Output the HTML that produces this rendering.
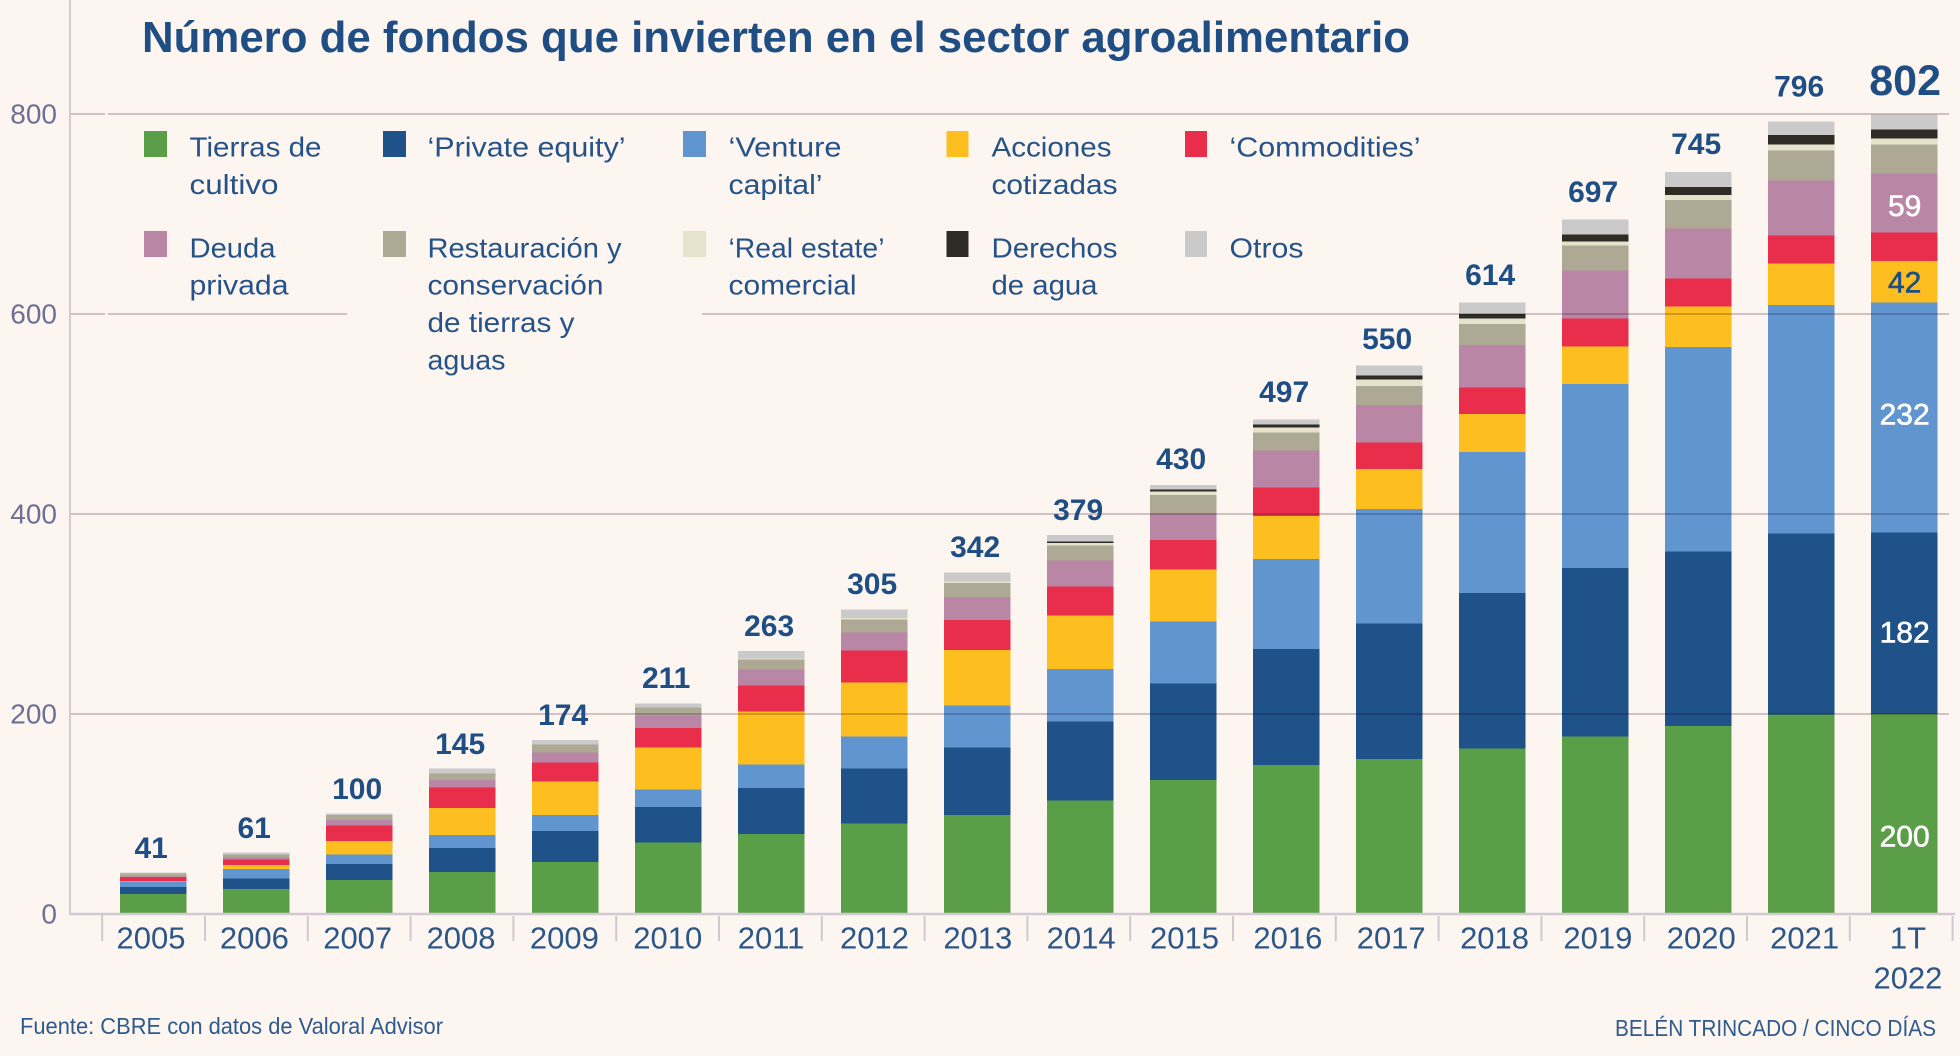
<!DOCTYPE html>
<html lang="es">
<head>
<meta charset="utf-8">
<title>Número de fondos que invierten en el sector agroalimentario</title>
<style>
html,body{margin:0;padding:0;background:#fdf5ef;}
svg{display:block;font-family:"Liberation Sans",sans-serif;}
.lg{font-size:28px;fill:#255389;}
.sw{shape-rendering:crispEdges;}
</style>
</head>
<body>
<svg id="chart" xmlns="http://www.w3.org/2000/svg" width="1960" height="1056" viewBox="0 0 1960 1056">
  <rect x="0" y="0" width="1960" height="1056" fill="#fdf5ef"/>
  <g id="grid"></g>
  <g id="bars"></g>
  <g id="gridOver" style="mix-blend-mode:multiply"></g>
  <g id="axes"></g>

  <text x="142" y="52" font-size="44" font-weight="bold" fill="#1f4e85" textLength="1268" lengthAdjust="spacingAndGlyphs">Número de fondos que invierten en el sector agroalimentario</text>

  <rect x="347" y="305" width="355" height="20" fill="#fdf5ef"/>
  <rect x="105" y="105" width="3" height="220" fill="#fdf5ef"/>

  <g id="legend">
    <g>
      <rect class="sw" x="144" y="131" width="23" height="26" fill="#5a9f47"/>
      <text class="lg" x="189.5" y="156.5" textLength="132" lengthAdjust="spacingAndGlyphs">Tierras de</text>
      <text class="lg" x="189.5" y="194" textLength="89" lengthAdjust="spacingAndGlyphs">cultivo</text>
    </g>
    <g>
      <rect class="sw" x="383" y="131" width="23" height="26" fill="#1f5288"/>
      <text class="lg" x="427.5" y="156.5" textLength="198" lengthAdjust="spacingAndGlyphs">‘Private equity’</text>
    </g>
    <g>
      <rect class="sw" x="683" y="131" width="23" height="26" fill="#6095cf"/>
      <text class="lg" x="728.5" y="156.5" textLength="113" lengthAdjust="spacingAndGlyphs">‘Venture</text>
      <text class="lg" x="728.5" y="194" textLength="94" lengthAdjust="spacingAndGlyphs">capital’</text>
    </g>
    <g>
      <rect class="sw" x="946.5" y="131" width="22" height="26" fill="#fdbf1f"/>
      <text class="lg" x="991.5" y="156.5" textLength="120" lengthAdjust="spacingAndGlyphs">Acciones</text>
      <text class="lg" x="991.5" y="194" textLength="126" lengthAdjust="spacingAndGlyphs">cotizadas</text>
    </g>
    <g>
      <rect class="sw" x="1185" y="131" width="22" height="26" fill="#e92e4c"/>
      <text class="lg" x="1229.5" y="156.5" textLength="191" lengthAdjust="spacingAndGlyphs">‘Commodities’</text>
    </g>
    <g>
      <rect class="sw" x="144" y="231" width="23" height="26" fill="#b986a5"/>
      <text class="lg" x="189.5" y="257.5" textLength="86" lengthAdjust="spacingAndGlyphs">Deuda</text>
      <text class="lg" x="189.5" y="294.7" textLength="99" lengthAdjust="spacingAndGlyphs">privada</text>
    </g>
    <g>
      <rect class="sw" x="383" y="231" width="23" height="26" fill="#ada995"/>
      <text class="lg" x="427.5" y="257.5" textLength="194" lengthAdjust="spacingAndGlyphs">Restauración y</text>
      <text class="lg" x="427.5" y="294.7" textLength="176" lengthAdjust="spacingAndGlyphs">conservación</text>
      <text class="lg" x="427.5" y="332" textLength="147" lengthAdjust="spacingAndGlyphs">de tierras y</text>
      <text class="lg" x="427.5" y="369.4" textLength="78" lengthAdjust="spacingAndGlyphs">aguas</text>
    </g>
    <g>
      <rect class="sw" x="683" y="231" width="23" height="26" fill="#e6e3cd"/>
      <text class="lg" x="728.5" y="257.5" textLength="156" lengthAdjust="spacingAndGlyphs">‘Real estate’</text>
      <text class="lg" x="728.5" y="294.7" textLength="128" lengthAdjust="spacingAndGlyphs">comercial</text>
    </g>
    <g>
      <rect class="sw" x="946.5" y="231" width="22" height="26" fill="#2f2c26"/>
      <text class="lg" x="991.5" y="257.5" textLength="126" lengthAdjust="spacingAndGlyphs">Derechos</text>
      <text class="lg" x="991.5" y="294.7" textLength="106" lengthAdjust="spacingAndGlyphs">de agua</text>
    </g>
    <g>
      <rect class="sw" x="1185" y="231" width="22" height="26" fill="#cacaca"/>
      <text class="lg" x="1229.5" y="257.5" textLength="74" lengthAdjust="spacingAndGlyphs">Otros</text>
    </g>
  </g>

  <text x="20" y="1034" font-size="23" fill="#2f5a8c" textLength="423" lengthAdjust="spacingAndGlyphs">Fuente: CBRE con datos de Valoral Advisor</text>
  <text x="1615" y="1036" font-size="23" fill="#2f5a8c" textLength="321" lengthAdjust="spacingAndGlyphs">BELÉN TRINCADO / CINCO DÍAS</text>
</svg>

<script>
const categories = ['2005','2006','2007','2008','2009','2010','2011','2012','2013','2014','2015','2016','2017','2018','2019','2020','2021','1T 2022'];
const yTicks = [0,200,400,600,800];
const totals = [41,61,100,145,174,211,263,305,342,379,430,497,550,614,697,745,796,802];
const tierras = [20,25,34,42,52,71.7,80,90.7,99,113.3,134,149,155,165.3,177.7,188,199.7,200];
const privateEquity = [7,10.3,16,24,31,35.3,46,55,67.3,79.4,96.3,116,135.3,155.7,168.3,174.7,180.6,181.7];
const venture = [5.4,9.7,9.3,13,16,17.7,23.3,32,42,52.3,62,90,114.7,141,184,204.3,228.7,229.6];
const acciones = [0.5,4,13.7,27,33.7,42,53,53.6,55.7,53.3,52,43,40,38,37.3,40.7,41.7,41.7];
const commodities = [4,5.3,15.7,20.7,19,19.3,26,32,30,29,29.7,28.7,26.7,26.7,28.4,28,27.6,28.4];
const deuda = [0.5,2.5,5.3,7.3,10,12.7,16,18.4,23,26.4,27,37,37.3,42.3,47.6,50,55.4,58.9];
const restauracion = [3,2.5,5,6.7,8,7.6,10.4,12.6,14,14.6,18,18,19,21,25,28.3,29.6,29.4];
const realEstate = [0,0,0,0,0,0,0.6,1.7,1.3,2.7,3.7,4.6,6.3,5.7,4,5,6.4,6];
const agua = [0,0,0,0,0,0,0,0,0,1.3,1.6,3.4,4,4.3,7,8,9.3,9];
const otros = [1.3,2.4,1.7,4.6,4.3,4.4,7.7,8.7,9.4,6.7,4.7,5,10,11.3,15,15,13.7,15];
const seriesNames = ['tierras','private-equity','venture','acciones','commodities','deuda','restauracion','real-estate','agua','otros'];
const seriesValues = [tierras,privateEquity,venture,acciones,commodities,deuda,restauracion,realEstate,agua,otros];
const seriesColors = ['#5a9f47','#1f5288','#6095cf','#fdbf1f','#e92e4c','#b986a5','#ada995','#e6e3cd','#2f2c26','#cacaca'];
const lastBarLabels = ['200','182','232','42','','59','','','',''];
const lastBarLabelColors = ['#ffffff','#ffffff','#ffffff','#1f4e85','','#ffffff','','','',''];
const lastBarLabelRatios = [0.39,0.45,0.515,0.5,0,0.46,0,0,0,0];

const NS = 'http://www.w3.org/2000/svg';
const y = v => 914 - v;
const barX = i => 119.8 + 103 * i;
const barW = 66.7;
const tickX = i => 102.2 + 102.8 * i;
const labelX = i => 151 + 103.35 * i;
const gridColor = '#d3c9d2';

function mk(tag, attrs, parent, txt) {
  const el = document.createElementNS(NS, tag);
  for (const k in attrs) el.setAttribute(k, attrs[k]);
  if (txt !== undefined) el.textContent = txt;
  parent.appendChild(el);
  return el;
}

const gridG = document.getElementById('gridOver');
const barsG = document.getElementById('bars');
const axesG = document.getElementById('axes');

categories.forEach((cat, i) => {
  let acc = 0;
  const g = mk('g', {}, barsG);
  
  
  seriesValues.forEach((vals, s) => {
    const v = vals[i];
    if (v > 0) {
      const r = mk('rect', {x: barX(i), y: y(acc + v), width: barW, height: v, fill: seriesColors[s], 'shape-rendering': 'crispEdges'}, g);
      
      
    }
    acc += v;
  });
});

yTicks.filter(t => t > 0).forEach(t => {
  const l = mk('line', {x1: 70, x2: 1949, y1: y(t), y2: y(t), stroke: gridColor, 'stroke-width': 2}, gridG);
  
  
});

const yAxis = mk('line', {x1: 70, x2: 70, y1: 0, y2: y(0) + 1, stroke: gridColor, 'stroke-width': 2}, axesG);


const xAxis = mk('line', {x1: 69, x2: 1955, y1: y(0), y2: y(0), stroke: gridColor, 'stroke-width': 2.5}, axesG);



yTicks.forEach(t => {
  const tx = mk('text', {x: 57, y: y(t) + 9.5, 'font-size': 28, 'text-anchor': 'end', fill: '#6d7095'}, axesG, String(t));
  
  
});

for (let i = 0; i <= categories.length; i++) {
  const tk = mk('line', {x1: tickX(i), x2: tickX(i), y1: i === 0 ? 913 : 916, y2: 941, stroke: '#cfcad1', 'stroke-width': 2}, axesG);
  
  
}

categories.forEach((cat, i) => {
  cat.split(' ').forEach((part, li) => {
    const tx = mk('text', {x: labelX(i), y: 948.3 + li * 40, 'font-size': 31, 'text-anchor': 'middle', fill: '#2b5688'}, axesG, part);
    
    
  });
  const last = i === categories.length - 1;
  const offset = i >= 16 ? 32 : 25.5;
  const fs = last ? 43 : 30;
  const tl = mk('text', {x: barX(i) + barW / 2 + (last ? 1 : -2), y: y(totals[i]) - offset + (last ? 15 : 10.5), 'font-size': fs, 'font-weight': 'bold', 'text-anchor': 'middle', fill: '#1f4e85'}, axesG, String(totals[i]));
  
  
});

(function () {
  const i = categories.length - 1;
  let acc = 0;
  seriesValues.forEach((vals, s) => {
    const v = vals[i];
    if (lastBarLabels[s]) {
      const tx = mk('text', {x: barX(i) + barW / 2 + 0.5, y: y(acc + v * lastBarLabelRatios[s]) + 10.5, 'font-size': 30, 'text-anchor': 'middle', fill: lastBarLabelColors[s], stroke: lastBarLabelColors[s], 'stroke-width': 0.6}, axesG, lastBarLabels[s]);
      
      
    }
    acc += v;
  });
})();
</script>
</body>
</html>
